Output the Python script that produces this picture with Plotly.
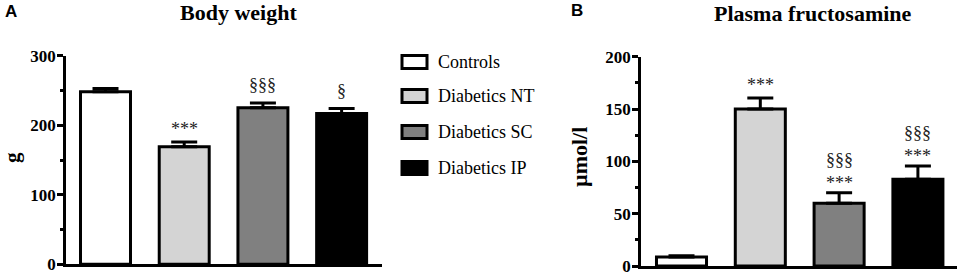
import plotly.graph_objects as go

# ---------------- data ----------------
categories = ["Controls", "Diabetics NT", "Diabetics SC", "Diabetics IP"]
bar_colors = ["#ffffff", "#d4d4d4", "#808080", "#000000"]

bw_mean = [248, 169, 225, 217]
bw_sem = [5, 7, 7, 7]
bw_star = ["", "***", "", ""]
bw_sect = ["", "", "§§§", "§"]

fr_mean = [8.5, 150, 60, 83]
fr_sem = [1.2, 10.5, 10, 12.5]
fr_star = ["", "***", "***", "***"]
fr_sect = ["", "", "§§§", "§§§"]

bw_ticks = [0, 100, 200, 300]
fr_ticks = [0, 50, 100, 150, 200]

SERIF = "Liberation Serif"
SANS = "Liberation Sans"
W, H = 965, 275


def px(x):
    return x / W


def py(y):
    return (H - y) / H


fig = go.Figure()

for xa, ya, mean, sem in [("x", "y", bw_mean, bw_sem), ("x2", "y2", fr_mean, fr_sem)]:
    fig.add_trace(go.Bar(
        x=categories, y=mean, xaxis=xa, yaxis=ya,
        width=0.635,
        marker=dict(color=bar_colors, line=dict(color="black", width=3)),
        error_y=dict(type="data", array=sem, arrayminus=[0] * len(sem),
                     symmetric=False, color="black", thickness=3, width=13),
        showlegend=False, hoverinfo="x+y",
    ))

annotations = []


def add_marks(xref, yref, mean, sem, stars, sects):
    for c, m, s, st, se in zip(categories, mean, sem, stars, sects):
        top = m + s
        both = bool(st) and bool(se)
        if st:
            annotations.append(dict(x=c, y=top, xref=xref, yref=yref, text=st,
                                    showarrow=False, yanchor="bottom",
                                    yshift=-2 if both else 1,
                                    font=dict(family=SERIF, size=18, color="#222")))
        if se:
            annotations.append(dict(x=c, y=top, xref=xref, yref=yref, text=se,
                                    showarrow=False, yanchor="bottom",
                                    yshift=21 if both else 6,
                                    font=dict(family=SERIF, size=18, color="#222")))


add_marks("x", "y", bw_mean, bw_sem, bw_star, bw_sect)
add_marks("x2", "y2", fr_mean, fr_sem, fr_star, fr_sect)

# titles, panel letters, axis titles
annotations += [
    dict(x=px(238), y=1, xref="paper", yref="paper", text="<b>Body weight</b>",
         showarrow=False, xanchor="center", yanchor="top", borderpad=0, yshift=1,
         font=dict(family=SERIF, size=22, color="black")),
    dict(x=px(813), y=1, xref="paper", yref="paper", text="<b>Plasma fructosamine</b>",
         showarrow=False, xanchor="center", yanchor="top", borderpad=0, yshift=0,
         font=dict(family=SERIF, size=22, color="black")),
    dict(x=px(11), y=py(11), xref="paper", yref="paper", text="<b>A</b>",
         showarrow=False, xanchor="center", yanchor="middle",
         font=dict(family=SANS, size=17, color="black")),
    dict(x=px(577), y=py(10), xref="paper", yref="paper", text="<b>B</b>",
         showarrow=False, xanchor="center", yanchor="middle",
         font=dict(family=SANS, size=17, color="black")),
    dict(x=px(12), y=py(158), xref="paper", yref="paper", text="<b>g</b>",
         showarrow=False, xanchor="center", yanchor="middle", textangle=-90,
         font=dict(family=SERIF, size=21, color="black")),
    dict(x=px(579), y=py(157), xref="paper", yref="paper", text="<b>µmol/l</b>",
         showarrow=False, xanchor="center", yanchor="middle", textangle=-90,
         font=dict(family=SERIF, size=22, color="black")),
]

# legend (drawn from categories / colors)
legend_y = [62, 96, 132, 168]
shapes = []
for c, col, yc in zip(categories, bar_colors, legend_y):
    shapes.append(dict(type="rect", xref="paper", yref="paper",
                       x0=px(402), x1=px(427), y0=py(yc + 6.5), y1=py(yc - 6.5),
                       fillcolor=col, line=dict(color="black", width=3)))
    annotations.append(dict(x=px(436), y=py(yc), xref="paper", yref="paper", text=c,
                            showarrow=False, xanchor="left", yanchor="middle",
                            font=dict(family=SERIF, size=18, color="black")))

yaxis_common = dict(
    showgrid=False, zeroline=False, showline=True, linecolor="black", linewidth=2.5,
    ticks="outside", ticklen=6, tickwidth=2.5, tickcolor="black",
    tickfont=dict(family=SERIF, size=17, color="black", weight="bold"),
    fixedrange=True, automargin=False, ticklabeloverflow="allow",
    ticklabelstandoff=-2,
)
xaxis_common = dict(
    showgrid=False, zeroline=False, showline=True, linecolor="black", linewidth=2.5,
    showticklabels=False, ticks="", fixedrange=True, type="category", automargin=False,
)

fig.update_layout(
    width=W, height=H, autosize=False,
    margin=dict(l=0, r=0, t=0, b=0, pad=0),
    paper_bgcolor="white", plot_bgcolor="white",
    showlegend=False,
    xaxis=dict(domain=[px(66), px(382)], range=[-0.502, 3.513], anchor="y", **xaxis_common),
    yaxis=dict(domain=[py(264.3), py(55.7)], range=[0, 300], anchor="x",
               tickvals=bw_ticks,
               minor=dict(dtick=50, ticklen=3, tickwidth=2.5, tickcolor="black", ticks="outside", showgrid=False),
               **yaxis_common),
    xaxis2=dict(domain=[px(641), px(957)], range=[-0.514, 3.496], anchor="y2", **xaxis_common),
    yaxis2=dict(domain=[py(266), py(56.7)], range=[0, 200], anchor="x2",
                tickvals=fr_ticks,
                minor=dict(dtick=25, ticklen=3, tickwidth=2.5, tickcolor="black", ticks="outside", showgrid=False),
                **yaxis_common),
    annotations=annotations,
    shapes=shapes,
    bargap=0.3,
)

fig.write_html(
    "out.html",
    config={"displayModeBar": False},
    post_script="document.body.style.margin='0';document.body.style.overflow='hidden';",
)
